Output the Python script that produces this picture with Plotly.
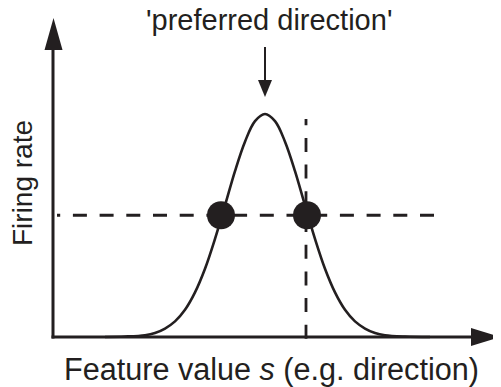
import plotly.graph_objects as go

# tuning curve (feature value in deg, firing rate in Hz)
feature = [-160, -140, -120, -110, -100, -90, -80, -70, -60, -50, -40, -30, -20, -10,
           0, 10, 20, 30, 40, 50, 60, 70, 80, 90, 100, 110, 120, 140, 165]
rate = [0.0, 0.1, 0.4, 0.9, 1.9, 3.5, 6.1, 10.0, 15.3, 22.0, 29.5, 37.2, 43.8, 48.4,
        50.0, 48.4, 43.8, 37.2, 29.5, 22.0, 15.3, 10.0, 6.1, 3.5, 1.9, 0.9, 0.4, 0.1, 0.0]

# the two stimuli giving the same response
dot_feature = [-44, 42]
dot_rate = [27.3, 27.3]

# dashed guides (drawn from the far end, like the original)
level_feature = [169, -208]
level_rate = [27.3, 27.3]
vline_feature = [41, 41]
vline_rate = [-0.4, 48.9]

INK = "#231f20"
FONT = "Liberation Sans, Arial, Helvetica, sans-serif"

# the page body has an 8px margin, so the figure sits at (8, 8) on screen
OFF = 8
W, H = 501 - OFF, 387 - OFF

# screen-pixel helpers for the decorations (axes origin at pixel 53, 337)
KY = 4.46
def X(p):
    return p - 265
def Y(p):
    return (337 - p) / KY

fig = go.Figure()
fig.add_trace(go.Scatter(x=level_feature, y=level_rate, mode="lines",
                         line=dict(color=INK, width=2.8, dash="14px,12.7px")))
fig.add_trace(go.Scatter(x=vline_feature, y=vline_rate, mode="lines",
                         line=dict(color=INK, width=2.8, dash="14px,12.7px")))
fig.add_trace(go.Scatter(x=feature, y=rate, mode="lines", line_shape="spline",
                         line=dict(color=INK, width=2.6)))
fig.add_trace(go.Scatter(x=dot_feature, y=dot_rate, mode="markers",
                         marker=dict(color=INK, size=28, line=dict(width=0))))

shapes = [
    dict(type="line", x0=X(53), y0=Y(338.5), x1=X(53), y1=Y(45),
         line=dict(color=INK, width=3)),
    dict(type="line", x0=X(51.5), y0=Y(337), x1=X(476), y1=Y(337),
         line=dict(color=INK, width=3)),
    dict(type="path", path=f"M {X(53.5)} {Y(18)} L {X(44.5)} {Y(50)} L {X(62.5)} {Y(50)} Z",
         fillcolor=INK, line=dict(width=0)),
    dict(type="path", path=f"M {X(500)} {Y(337)} L {X(471)} {Y(328)} L {X(471)} {Y(346)} Z",
         fillcolor=INK, line=dict(width=0)),
    dict(type="line", x0=X(265), y0=Y(47), x1=X(265), y1=Y(84),
         line=dict(color=INK, width=2)),
    dict(type="path", path=f"M {X(265)} {Y(97)} L {X(258)} {Y(80)} L {X(272)} {Y(80)} Z",
         fillcolor=INK, line=dict(width=0)),
]

annotations = [
    dict(x=X(269), y=Y(20), text="'preferred direction'", showarrow=False,
         xanchor="center", yanchor="middle", font=dict(size=29, color=INK, family=FONT)),
    dict(x=X(271), y=Y(369), text="Feature value <i>s</i> (e.g. direction)", showarrow=False,
         xanchor="center", yanchor="middle", font=dict(size=30.6, color=INK, family=FONT)),
    dict(x=X(22), y=Y(183), text="Firing rate", showarrow=False, textangle=-90,
         xanchor="center", yanchor="middle", font=dict(size=28, color=INK, family=FONT)),
]

fig.update_layout(
    width=W, height=H, autosize=False,
    margin=dict(l=0, r=0, t=0, b=0, pad=0),
    paper_bgcolor="white", plot_bgcolor="white",
    showlegend=False,
    xaxis=dict(range=[X(OFF), X(501)], visible=False, fixedrange=True),
    yaxis=dict(range=[Y(387), Y(OFF)], visible=False, fixedrange=True),
    shapes=shapes, annotations=annotations,
)

fig.write_html("out.html")
